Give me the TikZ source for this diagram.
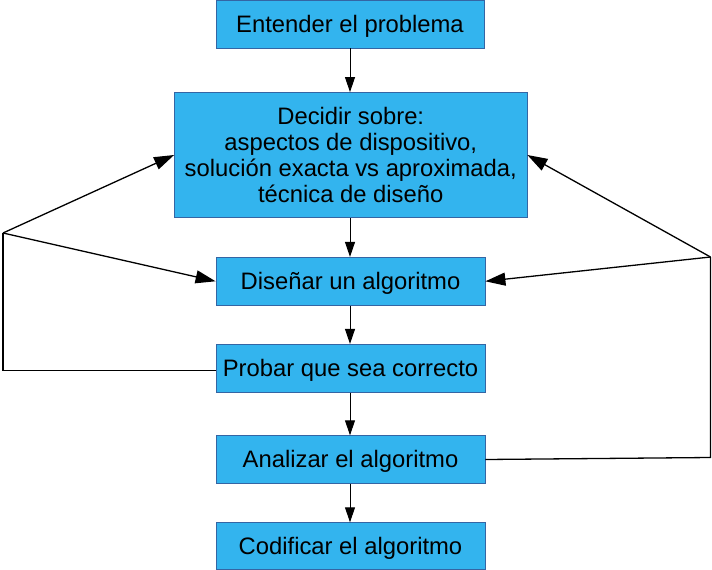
\documentclass[tikz,border=0pt]{standalone}
\usepackage{fontspec}
\setmainfont{Liberation Sans}
\usetikzlibrary{arrows.meta}
\definecolor{boxfill}{RGB}{51,180,238}
\definecolor{boxline}{RGB}{52,101,164}
\begin{document}
\begin{tikzpicture}[x=1pt,y=-1pt,
  stepbox/.style={draw=boxline, line width=0.8pt, fill=boxfill, rectangle, inner sep=0pt,
    font=\fontsize{23.8}{26.3}\selectfont, text=black, align=center},
  onebox/.style={stepbox, text height=18pt, text depth=2pt},
  vline/.style={line width=1pt, -{Triangle[length=15pt,width=10pt]}},
  sideline/.style={line width=1.3pt, -{Triangle[length=20pt,width=13pt]}},
  plainline/.style={line width=1.3pt}]
\useasboundingbox (0,0) rectangle (712,570);
\node[onebox, minimum width=268pt, minimum height=48pt] (b1) at (350,24) {Entender el problema};
\node[stepbox, minimum width=352.5pt, minimum height=125pt] (b2) at (350.75,155) {Decidir sobre:\\aspectos de dispositivo,\\solución exacta vs aproximada,\\técnica de diseño};
\node[onebox, minimum width=269pt, minimum height=48pt] (b3) at (350.5,281.3) {Diseñar un algoritmo};
\node[onebox, minimum width=269pt, minimum height=48pt] (b4) at (350.5,368.3) {Probar que sea correcto};
\node[onebox, minimum width=269pt, minimum height=47.6pt] (b5) at (350.5,459.5) {Analizar el algoritmo};
\node[onebox, minimum width=269pt, minimum height=46.6pt] (b6) at (350.5,546) {Codificar el algoritmo};
\coordinate (lj) at (3,233);
\coordinate (lc) at (3,370.5);
\coordinate (rj) at (710.5,257);
\coordinate (rc) at (710.5,457.5);
\draw[vline] (b1.south -| 350,0) -- (b2.north -| 350,0);
\draw[vline] (b2.south -| 350,0) -- (b3.north -| 350,0);
\draw[vline] (b3.south -| 350,0) -- (b4.north -| 350,0);
\draw[vline] (b4.south -| 350,0) -- (b5.north -| 350,0);
\draw[vline] (b5.south -| 350,0) -- (b6.north -| 350,0);
\draw[plainline] (b4.west |- lc) -- (lc) -- (lj);
\draw[sideline] (lj) -- (b2.west);
\draw[sideline] (lj) -- (b3.west);
\draw[plainline] (b5.east) -- (rc) -- (rj);
\draw[sideline] (rj) -- (b2.east);
\draw[sideline] (rj) -- (b3.east);
\end{tikzpicture}
\end{document}
